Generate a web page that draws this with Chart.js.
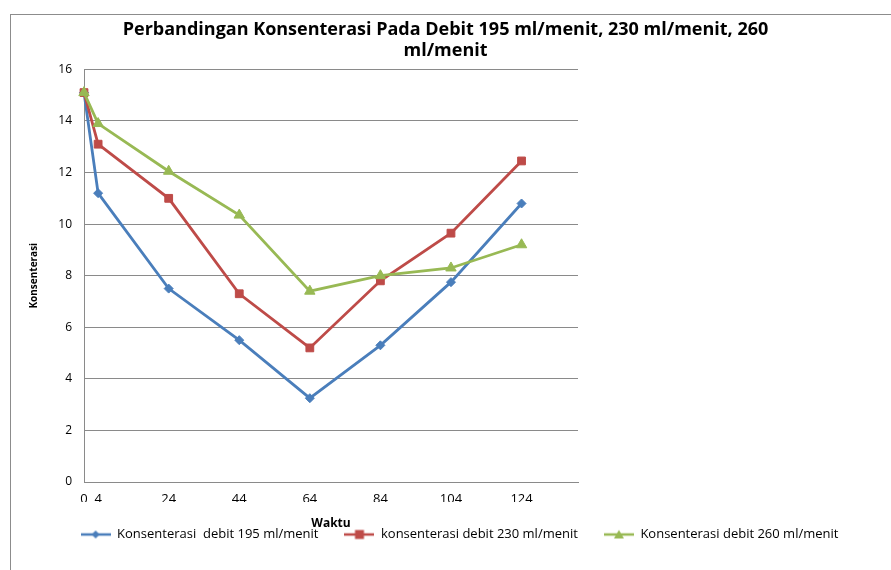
<!DOCTYPE html>
<html><head><meta charset="utf-8">
<script src="https://cdn.jsdelivr.net/npm/chart.js@4/dist/chart.umd.min.js"></script>
<style>
html,body{margin:0;padding:0;background:#fff;}
#wrap{position:relative;width:891px;height:570px;overflow:hidden;}
#frame{position:absolute;left:10px;top:14px;width:900px;height:600px;border:1px solid #8c8c8c;pointer-events:none;}
</style></head><body>
<div id="wrap"><canvas id="c" width="891" height="570"></canvas><div id="frame"></div></div>
<script>
const times = [0, 4, 24, 44, 64, 84, 104, 124];
const xTicks = [0, 4, 24, 44, 64, 84, 104, 124];
const conc195 = [15.1, 11.2, 7.5, 5.5, 3.25, 5.3, 7.75, 10.8];
const conc230 = [15.1, 13.1, 11.0, 7.3, 5.2, 7.8, 9.65, 12.45];
const conc260 = [15.1, 13.9, 12.05, 10.35, 7.4, 8.0, 8.3, 9.2];
const seriesNames = ['Konsenterasi  debit 195 ml/menit', 'konsenterasi debit 230 ml/menit', 'Konsenterasi debit 260 ml/menit'];
const titleLines = ['Perbandingan Konsenterasi Pada Debit 195 ml/menit, 230 ml/menit, 260', 'ml/menit'];

const FONT = "'Open Sans', sans-serif";
const colors = ['#4A7EBB', '#BE4B48', '#98B954'];
const styles = ['rectRot', 'rect', 'triangle'];
const radii = [4.5, 5.5, 6];

function legendIcon(color, style) {
  const cv = document.createElement('canvas');
  cv.width = 30; cv.height = 12;
  const g = cv.getContext('2d');
  g.strokeStyle = color; g.lineWidth = 2.5;
  g.beginPath(); g.moveTo(0, 6); g.lineTo(30, 6); g.stroke();
  g.fillStyle = color;
  g.beginPath();
  if (style === 'rectRot') { g.moveTo(15, 2); g.lineTo(19, 6); g.lineTo(15, 10); g.lineTo(11, 6); }
  else if (style === 'rect') { g.rect(10.5, 1.5, 9, 9); }
  else { g.moveTo(15, 1.5); g.lineTo(20, 10); g.lineTo(10, 10); }
  g.closePath(); g.fill();
  return cv;
}

const shiftLegend = {
  id: 'shiftLegend',
  afterLayout(chart) { if (chart.legend) { chart.legend.left += 14; chart.legend.right += 14; } }
};

const pts = arr => arr.map((v, i) => ({x: times[i], y: v}));
const data = {
  datasets: [conc195, conc230, conc260].map((arr, i) => ({
    label: seriesNames[i],
    data: pts(arr),
    borderColor: colors[i],
    backgroundColor: colors[i],
    borderWidth: 2.8,
    pointStyle: styles[i],
    pointRadius: radii[i],
    pointBorderWidth: 1,
    tension: 0,
    clip: false,
    order: 3 - i
  }))
};

new Chart(document.getElementById('c'), {
  type: 'line',
  data,
  plugins: [shiftLegend],
  options: {
    responsive: false,
    animation: false,
    layout: {padding: {left: 0, right: 0, top: 0, bottom: 19}},
    plugins: {
      title: {display: true, text: titleLines, color: '#000', font: {family: FONT, size: 18, weight: 'bold', lineHeight: 1.15}, padding: {top: 20, bottom: 8}},
      legend: {
        position: 'bottom',
        labels: {
          usePointStyle: true, pointStyleWidth: 30, boxHeight: 12,
          color: '#000', font: {family: FONT, size: 13}, padding: 26,
          generateLabels: chart => chart.data.datasets.map((ds, i) => ({
            text: ds.label, pointStyle: legendIcon(colors[i], styles[i]),
            fillStyle: colors[i], strokeStyle: colors[i], lineWidth: 0, datasetIndex: i, hidden: false
          }))
        }
      },
      tooltip: {enabled: false}
    },
    scales: {
      x: {
        type: 'linear', min: 0, max: 140,
        afterBuildTicks: s => { s.ticks = xTicks.map(v => ({value: v})); },
        grid: {display: false, drawTicks: false},
        border: {display: true, color: '#8a8a8a', width: 1},
        ticks: {color: '#000', font: {family: FONT, size: 13}, padding: 9, maxRotation: 0, autoSkip: false},
        title: {display: true, text: 'Waktu', color: '#000', font: {family: FONT, size: 12, weight: 'bold'}, padding: {top: 1, bottom: -29}}
      },
      y: {
        min: 0, max: 16,
        afterFit: s => { s.width = 84; },
        grid: {color: '#8a8a8a', lineWidth: 1, drawTicks: false},
        border: {display: true, color: '#8a8a8a', width: 1},
        ticks: {stepSize: 2, color: '#000', font: {family: FONT, size: 12}, padding: 12},
        title: {display: true, text: 'Konsenterasi', color: '#000', font: {family: FONT, size: 10, weight: 'bold'}, padding: {top: 28, bottom: 0}}
      },
      y2: {
        position: 'right', min: 0, max: 16,
        afterFit: s => { s.width = 313; },
        grid: {display: false}, border: {display: false}, ticks: {display: false}
      }
    }
  }
});
</script>
</body></html>
